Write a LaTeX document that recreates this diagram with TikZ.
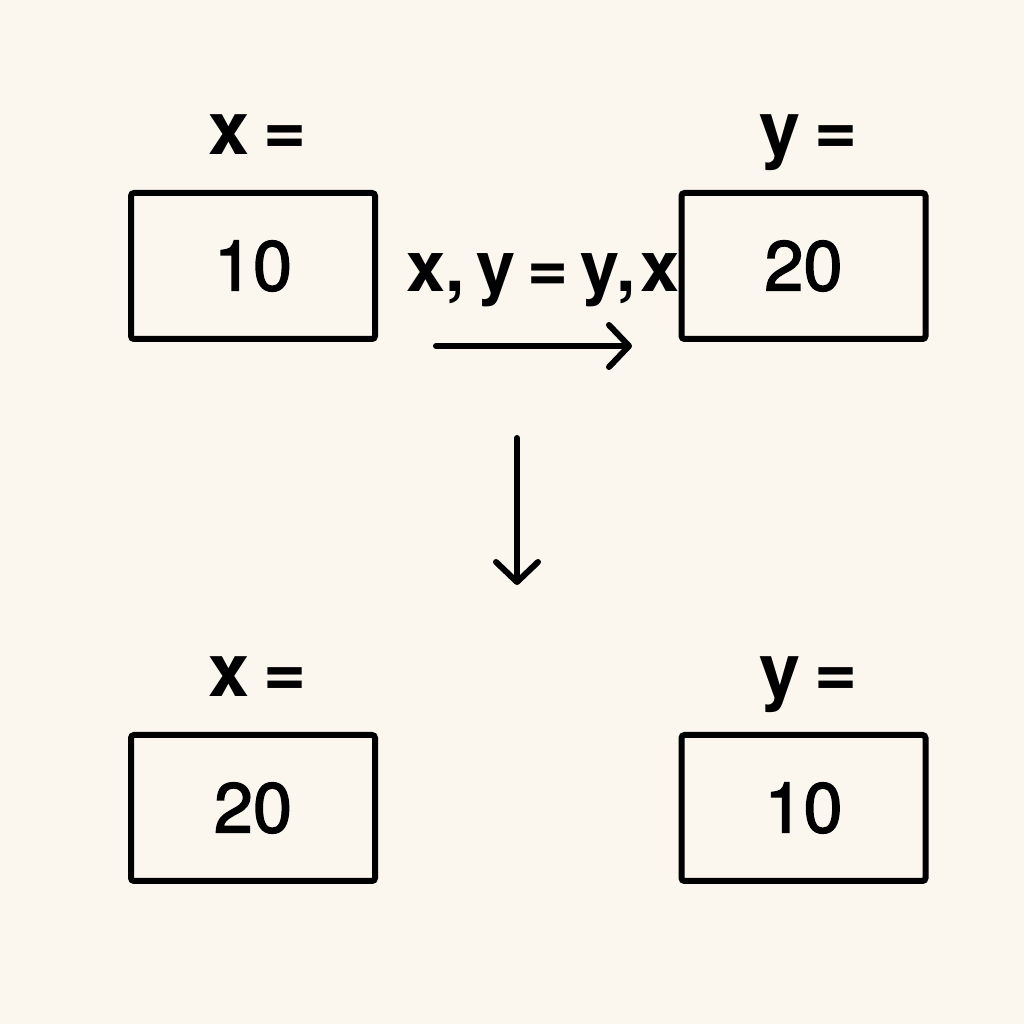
\documentclass[tikz,border=0pt]{standalone}
\usepackage{fontspec}
\setmainfont{TeX Gyre Heros}
\newfontfamily\numfont[FakeBold=2]{TeX Gyre Heros}
\usetikzlibrary{positioning,arrows.meta}
\definecolor{paper}{HTML}{FBF7EF}
\begin{document}
\begin{tikzpicture}[
	box/.style={draw,line width=0.06cm,rounded corners=0.03cm,
		minimum width=2.44cm,minimum height=1.46cm,
		font=\numfont\fontsize{20}{24}\selectfont},
	lbl/.style={inner sep=0pt,outer sep=0pt,text depth=0pt,xshift=0.05cm,
		font=\bfseries\fontsize{21}{25}\selectfont},
	arr/.style={line width=0.06cm,line cap=round,
		-{Straight Barb[length=0.2cm,width=0.42cm,round]}}]
	\fill[paper] (0,0) rectangle (10.24,10.24);
	\useasboundingbox (0,0) rectangle (10.24,10.24);
	% before the swap
	\node[box] (xold) at (2.53,7.58) {10};
	\node[box] (yold) at (8.035,7.58) {20};
	\node[lbl,above=0.355cm of xold] (xoldlbl) {x\hspace{0.14cm}=};
	\node[lbl,above=0.355cm of yold] (yoldlbl) {y\hspace{0.14cm}=};
	\node[lbl,anchor=base,xshift=0pt,font=\bfseries\fontsize{20}{24}\selectfont] (swap) at (5.38,7.32)
		{x,\hspace{0.12cm}y\hspace{0.12cm}=\hspace{0.12cm}y,\hspace{0.05cm}x};
	\coordinate (swapl) at (4.36,6.78);
	\coordinate (swapr) at (6.32,6.78);
	\draw[arr] (swapl) -- (swapr);
	% after the swap
	\coordinate (downa) at (5.17,5.86);
	\coordinate (downb) at (5.17,4.39);
	\draw[arr] (downa) -- (downb);
	\node[box] (xnew) at (2.53,2.16) {20};
	\node[box] (ynew) at (8.035,2.16) {10};
	\node[lbl,above=0.355cm of xnew] (xnewlbl) {x\hspace{0.14cm}=};
	\node[lbl,above=0.355cm of ynew] (ynewlbl) {y\hspace{0.14cm}=};
\end{tikzpicture}
\end{document}
